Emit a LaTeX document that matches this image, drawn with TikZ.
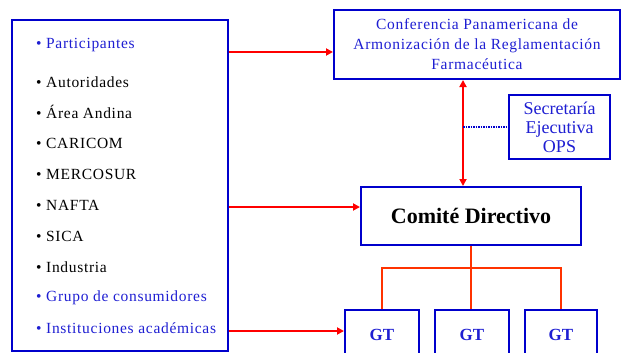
\documentclass[tikz,border=0pt]{standalone}
\usepackage{fontspec}
\setmainfont{Liberation Serif}
\newfontfamily\spaced[LetterSpace=4.5]{Liberation Serif}
\usetikzlibrary{arrows.meta,calc}
\definecolor{boxblue}{RGB}{0,0,204}
\definecolor{txtblue}{RGB}{30,30,210}
\definecolor{treered}{RGB}{255,51,0}
\tikzset{
  frame/.style={draw=boxblue,line width=2pt,inner sep=0pt},
  item/.style={anchor=west,inner sep=0pt,font=\spaced\fontsize{15.5}{18}\selectfont},
  bluetxt/.style={text=txtblue},
  redarrow/.style={draw=red,line width=2.5pt,-{Triangle[length=7pt,width=7pt]}},
  dredarrow/.style={draw=red,line width=2.5pt,{Triangle[length=7pt,width=7pt]}-{Triangle[length=7pt,width=7pt]}},
  treeline/.style={draw=treered,line width=1.5pt},
  dotline/.style={draw=boxblue,line width=1.5pt,dash pattern=on 1.5pt off 1pt}
}
\begin{document}
\begin{tikzpicture}[x=1pt,y=-1pt]
\useasboundingbox (0,0) rectangle (621,353);
\clip (0,0) rectangle (621,353);
% left box
\node[frame,minimum width=216pt,minimum height=331pt] (left) at (120,185.5) {};
\node[item,bluetxt] (i1) at (36,45) {• Participantes};
\node[item] (i2) at (36,82) {• Autoridades};
\node[item] (i3) at (36,112) {• Área Andina};
\node[item] (i4) at (36,143) {• CARICOM};
\node[item] (i5) at (36,174) {• MERCOSUR};
\node[item] (i6) at (36,205) {• NAFTA};
\node[item] (i7) at (36,236) {• SICA};
\node[item] (i8) at (36,267) {• Industria};
\node[item,bluetxt] (i9) at (36,298) {• Grupo de consumidores};
\node[item,bluetxt] (i10) at (36,328) {• Instituciones académicas};
% conference
\node[frame,minimum width=286pt,minimum height=69pt,align=center,text=txtblue,
  font=\spaced\fontsize{15.5}{20}\selectfont] (conf) at (477,44.5)
  {Conferencia Panamericana de\\Armonización de la Reglamentación\\Farmacéutica};
% secretaria
\node[frame,minimum width=101pt,minimum height=64pt,align=center,text=txtblue,
  font=\fontsize{18}{19}\selectfont] (sec) at (559.5,127)
  {Secretaría\\Ejecutiva\\OPS};
% comite
\node[frame,minimum width=220pt,minimum height=58pt,
  font=\fontsize{22}{24}\selectfont\bfseries] (comite) at (471,216) {Comité Directivo};
% GT
\node[frame,minimum width=74pt,minimum height=50pt,text=txtblue,font=\fontsize{17}{20}\selectfont\bfseries] (gt1) at (382,335) {GT};
\node[frame,minimum width=74pt,minimum height=50pt,text=txtblue,font=\fontsize{17}{20}\selectfont\bfseries] (gt2) at (472,335) {GT};
\node[frame,minimum width=72pt,minimum height=50pt,text=txtblue,font=\fontsize{17}{20}\selectfont\bfseries] (gt3) at (561,335) {GT};
% helper coordinates
\coordinate (y1) at (0,52);
\coordinate (y2) at (0,207);
\coordinate (y3) at (0,331);
\coordinate (vx) at (463,0);
% arrows
\draw[redarrow] (left.east |- y1) -- (conf.west |- y1);
\draw[redarrow] (left.east |- y2) -- (comite.west |- y2);
\draw[redarrow] (left.east |- y3) -- (gt1.west |- y3);
\draw[dredarrow] (conf.south -| vx) -- (comite.north -| vx);
\draw[dotline] (vx |- sec.west) -- (sec.west);
% tree
\draw[treeline] (comite.south) -- ++(0,22) coordinate (j);
\draw[treeline] (gt1.north) |- (j) -| (gt3.north);
\draw[treeline] (j) -- (gt2.north -| j);
\end{tikzpicture}
\end{document}
